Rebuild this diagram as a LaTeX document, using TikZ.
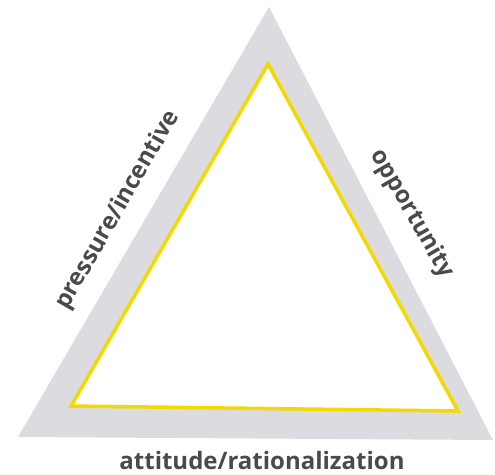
\documentclass[tikz,border=0pt]{standalone}
\usepackage{fontspec}
\setmainfont{Open Sans}[BoldFont={Open Sans Bold}]
\definecolor{sidegray}{HTML}{DCDCE0}
\definecolor{edgeyellow}{HTML}{F2D900}
\definecolor{labelgray}{HTML}{4A4A4A}
\tikzset{
  sidelabel/.style={font=\bfseries\fontsize{24}{24}\selectfont, text=labelgray, inner sep=1pt},
}
\begin{document}
\begin{tikzpicture}[x=1pt, y=-1pt, line join=miter]
  \useasboundingbox (0,0) rectangle (495,474);
  \fill[sidegray] (269,7) -- (18,437) -- (493,440) -- cycle;
  \filldraw[fill=white, draw=edgeyellow, line width=3.5pt] (268,64) -- (71,406) -- (458,411) -- cycle;
  \node[sidelabel, rotate=60] (pressure) at (118,210) {pressure/incentive};
  \node[sidelabel, rotate=-60] (opportunity) at (412,214) {opportunity};
  \node[sidelabel] (attitude) at (262,460) {attitude/rationalization};
\end{tikzpicture}
\end{document}
